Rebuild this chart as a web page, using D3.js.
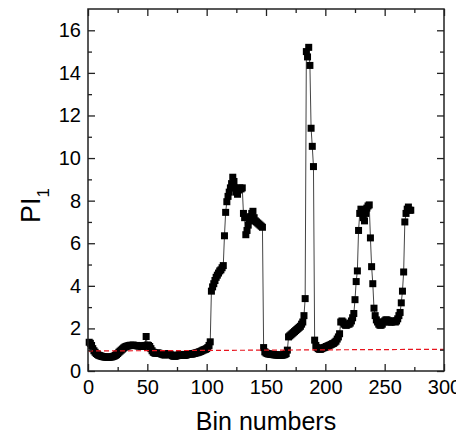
<!DOCTYPE html>
<html>
<head>
<meta charset="utf-8">
<script src="https://cdn.jsdelivr.net/npm/d3@7/dist/d3.min.js"></script>
<style>
html,body{margin:0;padding:0;background:#fff;}
svg{display:block;}
text{font-family:"Liberation Sans",Arial,sans-serif;fill:#000;}
</style>
</head>
<body>
<svg id="chart" width="456" height="435"></svg>
<script>
// ---- data ----
const binStart = 1;
const piValues = [
  1.35, 1.3, 1.2, 1.05, 0.95, 0.88, 0.82, 0.78, 0.74, 0.72,
  0.7, 0.68, 0.67, 0.66, 0.65, 0.65, 0.64, 0.65, 0.66, 0.66,
  0.68, 0.7, 0.73, 0.77, 0.82, 0.88, 0.93, 0.98, 1.03, 1.08,
  1.12, 1.15, 1.17, 1.18, 1.2, 1.21, 1.2, 1.22, 1.2, 1.19,
  1.2, 1.18, 1.17, 1.18, 1.16, 1.15, 1.17, 1.2, 1.62, 1.22,
  1.2, 1.15, 1.05, 0.95, 0.88, 0.85, 0.83, 0.84, 0.85, 0.83,
  0.82, 0.8, 0.78, 0.76, 0.75, 0.78, 0.8, 0.82, 0.8, 0.76,
  0.72, 0.7, 0.69, 0.7, 0.72, 0.75, 0.77, 0.78, 0.76, 0.74,
  0.73, 0.74, 0.76, 0.78, 0.8, 0.8, 0.79, 0.8, 0.82, 0.83,
  0.85, 0.86, 0.88, 0.9, 0.92, 0.95, 0.98, 1.0, 1.02, 1.05,
  1.1, 1.2, 1.37, 3.75, 3.95, 4.1, 4.25, 4.4, 4.5, 4.6,
  4.7, 4.75, 4.85, 4.95, 6.35, 7.45, 7.95, 8.2, 8.4, 8.6,
  8.8, 9.1, 8.9, 8.6, 8.4, 8.3, 8.5, 8.6, 8.55, 8.6,
  7.4, 7.2, 6.4, 6.6, 6.85, 7.05, 7.25, 7.4, 7.5, 7.2,
  7.05, 7.0, 6.95, 6.9, 6.85, 6.8, 6.75, 1.1, 0.9, 0.85,
  0.82, 0.8, 0.8, 0.78, 0.78, 0.77, 0.76, 0.76, 0.75, 0.75,
  0.74, 0.74, 0.74, 0.75, 0.76, 0.78, 0.82, 0.98, 1.6, 1.65,
  1.7, 1.75, 1.8, 1.85, 1.9, 1.95, 2.0, 2.05, 2.1, 2.2,
  2.3, 2.6, 3.4, 15.0, 14.75, 15.2, 14.35, 11.4, 10.55, 9.6,
  1.45, 1.2, 1.1, 1.05, 1.02, 1.02, 1.05, 1.08, 1.1, 1.12,
  1.15, 1.17, 1.2, 1.22, 1.25, 1.28, 1.3, 1.35, 1.4, 1.5,
  1.6, 1.75, 2.3, 2.35, 2.3, 2.2, 2.15, 2.15, 2.2, 2.2,
  2.25, 2.35, 2.5, 2.7, 3.35, 4.2, 4.7, 6.6, 7.4, 7.6,
  7.5, 7.2, 7.05, 7.4, 7.65, 7.75, 7.8, 6.25, 4.9, 4.1,
  2.95, 2.6, 2.4, 2.3, 2.2, 2.15, 2.15, 2.2, 2.3, 2.35,
  2.4, 2.4, 2.35, 2.3, 2.3, 2.3, 2.35, 2.35, 2.3, 2.35,
  2.45, 2.6, 2.75, 3.2, 3.75, 4.65, 7.0, 7.4, 7.6, 7.7,
  7.55, 7.55
];
const refLineX = [0, 300];
const refLineY = [0.94, 1.02];
const xMajorTicks = [0, 50, 100, 150, 200, 250, 300];
const xMinorTicks = [25, 75, 125, 175, 225, 275];
const yMajorTicks = [0, 2, 4, 6, 8, 10, 12, 14, 16];
const yMinorTicks = [1, 3, 5, 7, 9, 11, 13, 15];
const xLabel = "Bin numbers";
const yLabel = "PI";
const yLabelSub = "1";

// ---- layout ----
const L = 88, R = 444, T = 9, B = 371;
const svg = d3.select("#chart");
const x = d3.scaleLinear().domain([0, 300]).range([L, R]);
const y = d3.scaleLinear().domain([0, 17]).range([B, T]);

const data = piValues.map((v, i) => ({bin: binStart + i, v}));

// connecting line
svg.append("path")
  .datum(data)
  .attr("fill", "none")
  .attr("stroke", "#444")
  .attr("stroke-width", 1)
  .attr("d", d3.line().x(d => x(d.bin)).y(d => y(d.v)));

// markers
const ms = 7;
svg.append("g").selectAll("rect").data(data).join("rect")
  .attr("x", d => x(d.bin) - ms/2)
  .attr("y", d => y(d.v) - ms/2)
  .attr("width", ms).attr("height", ms)
  .attr("fill", "#000");

// red dashed reference line
svg.append("line")
  .attr("x1", x(refLineX[0])).attr("y1", y(refLineY[0]))
  .attr("x2", x(refLineX[1])).attr("y2", y(refLineY[1]))
  .attr("stroke", "#e8141e").attr("stroke-width", 1.2)
  .attr("stroke-dasharray", "5,3");

// axes
function styleAxis(g){
  g.selectAll(".domain").remove();
  g.selectAll(".tick line").attr("stroke", "#222").attr("stroke-width", 1.3);
  g.selectAll(".tick text").style("font-size", "20px").attr("fill", "#000");
}
svg.append("g").attr("transform", `translate(0,${B})`)
  .call(d3.axisBottom(x).tickValues(xMajorTicks).tickSize(-7).tickPadding(9).tickFormat(d3.format("d")))
  .call(styleAxis);
svg.append("g").attr("transform", `translate(0,${B})`)
  .call(d3.axisBottom(x).tickValues(xMinorTicks).tickSize(-4).tickFormat(""))
  .call(styleAxis);
svg.append("g").attr("transform", `translate(${L},0)`)
  .call(d3.axisLeft(y).tickValues(yMajorTicks).tickSize(-7).tickPadding(7).tickFormat(d3.format("d")))
  .call(styleAxis);
svg.append("g").attr("transform", `translate(${L},0)`)
  .call(d3.axisLeft(y).tickValues(yMinorTicks).tickSize(-4).tickFormat(""))
  .call(styleAxis);
svg.append("g").attr("transform", `translate(0,${T})`)
  .call(d3.axisTop(x).tickValues(xMajorTicks).tickSize(-7).tickFormat(""))
  .call(styleAxis);
svg.append("g").attr("transform", `translate(0,${T})`)
  .call(d3.axisTop(x).tickValues(xMinorTicks).tickSize(-4).tickFormat(""))
  .call(styleAxis);
svg.append("g").attr("transform", `translate(${R},0)`)
  .call(d3.axisRight(y).tickValues(yMajorTicks).tickSize(-7).tickFormat(""))
  .call(styleAxis);
svg.append("g").attr("transform", `translate(${R},0)`)
  .call(d3.axisRight(y).tickValues(yMinorTicks).tickSize(-4).tickFormat(""))
  .call(styleAxis);

// frame
svg.append("rect")
  .attr("x", L).attr("y", T).attr("width", R - L).attr("height", B - T)
  .attr("fill", "none").attr("stroke", "#222").attr("stroke-width", 1.5);

// axis titles
svg.append("text")
  .attr("x", (L + R) / 2).attr("y", 430)
  .attr("text-anchor", "middle")
  .style("font-size", "25px")
  .text(xLabel);

const yt = svg.append("text")
  .attr("transform", "translate(40,223) rotate(-90)")
  .attr("text-anchor", "start")
  .style("font-size", "27px");
yt.append("tspan").text(yLabel);
yt.append("tspan").attr("dy", 9).style("font-size", "17px").text(yLabelSub);
</script>
</body>
</html>
